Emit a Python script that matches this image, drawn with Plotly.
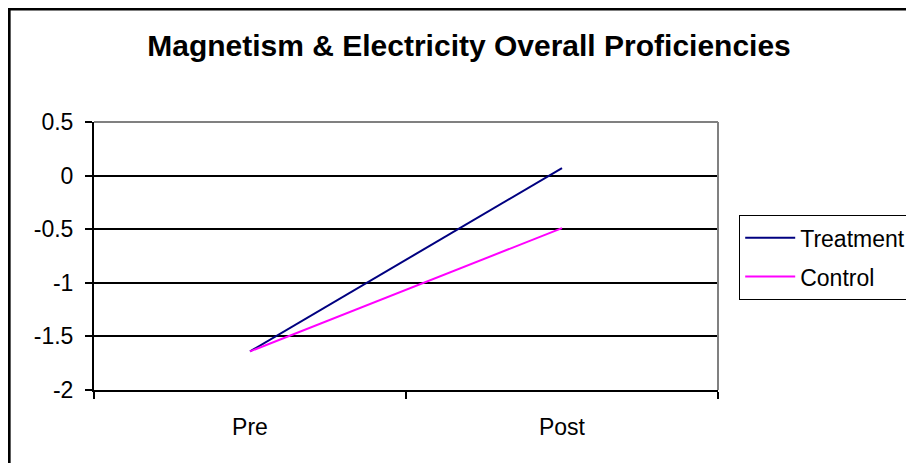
import plotly.graph_objects as go

categories = ["Pre", "Post"]
treatment = [-1.64, 0.07]
control = [-1.64, -0.49]
y_ticks = [-2, -1.5, -1, -0.5, 0, 0.5]
y_tick_labels = ["-2", "-1.5", "-1", "-0.5", "0", "0.5"]
title_text = "Magnetism & Electricity Overall Proficiencies"

FONT = "Liberation Sans, Arial, sans-serif"

fig = go.Figure()
fig.add_trace(go.Scatter(x=categories, y=treatment, mode="lines", name="Treatment",
                         line=dict(color="#000080", width=2), legendgroup="a"))
fig.add_trace(go.Scatter(x=categories, y=control, mode="lines", name="Control",
                         line=dict(color="#FF00FF", width=2), legendgroup="b"))

# page is offset by the default 8px body margin; coordinates below are figure pixels
OFF = 8
W, H = 914, 463
L, R, T, B = 94 - OFF, 719 - OFF, 122 - OFF, 390 - OFF
PW, PH = R - L, B - T


def px_x(p):
    return (p - OFF - L) / PW


def px_y(p):
    return (B - (p - OFF)) / PH


fig.update_layout(
    width=W, height=H,
    margin=dict(l=L, r=W - R, t=T, b=H - B, pad=0),
    paper_bgcolor="white", plot_bgcolor="white",
    font=dict(family=FONT, size=23, color="black"),
    title=dict(text="<b>" + title_text + "</b>", x=(469 - OFF) / W, xanchor="center",
               y=1 - (45 - OFF) / H, yanchor="middle", font=dict(size=30, family=FONT)),
    showlegend=True,
    legend=dict(x=px_x(739), xanchor="left", y=px_y(215), yanchor="top",
                bordercolor="black", borderwidth=1.2, bgcolor="white",
                font=dict(size=23, family=FONT), tracegroupgap=6, traceorder="grouped",
                itemwidth=50, entrywidth=260, entrywidthmode="pixels"),
    xaxis=dict(type="category", range=[-0.5, 1.5], tickson="boundaries", ticks="outside",
               ticklen=7, tickcolor="black", tickwidth=2, showline=True, linecolor="black",
               linewidth=2, showgrid=False, zeroline=False, ticklabelstandoff=15,
               tickfont=dict(size=23)),
    yaxis=dict(range=[-2, 0.5], tickvals=y_ticks, ticktext=y_tick_labels, ticks="outside",
               ticklen=7, tickcolor="black", tickwidth=2, showline=True, linecolor="black",
               linewidth=2, showgrid=True, gridcolor="black", gridwidth=2,
               zeroline=False, ticklabelstandoff=7, tickfont=dict(size=23)),
    shapes=[
        dict(type="line", xref="paper", yref="paper", x0=0, x1=1, y0=1, y1=1,
             line=dict(color="#808080", width=2)),
        dict(type="line", xref="paper", yref="paper", x0=1, x1=1, y0=0, y1=1,
             line=dict(color="#808080", width=2)),
        dict(type="rect", xref="paper", yref="paper",
             x0=(1 - L) / PW, x1=(1100 - L) / PW,
             y0=(B - 700) / PH, y1=(B - 1) / PH,
             line=dict(color="black", width=3), layer="above"),
    ],
)

fig.write_html("out.html")
